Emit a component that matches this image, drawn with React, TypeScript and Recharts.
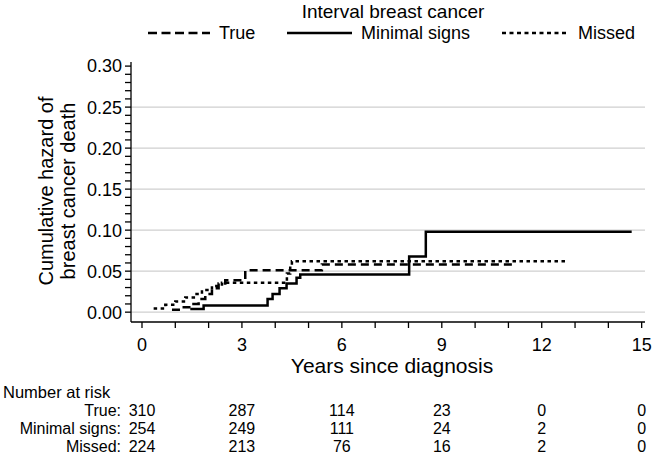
import { LineChart, Line, XAxis, YAxis, ReferenceLine } from 'recharts';

// cumulative hazard step points (years, hazard)
const trueSteps = [
  { t: 0.9, v: 0.003 },
  { t: 1.2, v: 0.006 },
  { t: 1.5, v: 0.01 },
  { t: 1.7, v: 0.016 },
  { t: 1.9, v: 0.022 },
  { t: 2.1, v: 0.029 },
  { t: 2.3, v: 0.035 },
  { t: 2.5, v: 0.039 },
  { t: 3.1, v: 0.051 },
  { t: 5.4, v: 0.058 },
  { t: 11.2, v: 0.058 }
];

const minimalSteps = [
  { t: 1.45, v: 0.004 },
  { t: 1.85, v: 0.008 },
  { t: 3.77, v: 0.016 },
  { t: 3.92, v: 0.022 },
  { t: 4.13, v: 0.029 },
  { t: 4.34, v: 0.035 },
  { t: 4.64, v: 0.042 },
  { t: 4.75, v: 0.046 },
  { t: 8.02, v: 0.068 },
  { t: 8.52, v: 0.098 },
  { t: 14.7, v: 0.098 }
];

const missedSteps = [
  { t: 0.35, v: 0.0045 },
  { t: 0.7, v: 0.009 },
  { t: 1.0, v: 0.013 },
  { t: 1.3, v: 0.018 },
  { t: 1.6, v: 0.022 },
  { t: 1.8, v: 0.027 },
  { t: 2.1, v: 0.032 },
  { t: 2.4, v: 0.036 },
  { t: 4.35, v: 0.047 },
  { t: 4.45, v: 0.056 },
  { t: 4.5, v: 0.062 },
  { t: 12.7, v: 0.062 }
];

const xTicks = [0, 1, 2, 3, 4, 5, 6, 7, 8, 9, 10, 11, 12, 13, 14, 15];
const yTicks = Array.from({ length: 31 }, (_, i) => +(i * 0.01).toFixed(2));
const gridValues = [0, 0.05, 0.1, 0.15, 0.2, 0.25];

const riskTimes = [0, 3, 6, 9, 12, 15];
const riskTrue = [310, 287, 114, 23, 0, 0];
const riskMinimal = [254, 249, 111, 24, 2, 0];
const riskMissed = [224, 213, 76, 16, 2, 0];

const W = 657;
const H = 456;
const M = { top: 62, right: 12, bottom: 104, left: 71 };
const Y_AXIS_W = 60;
const X_DOMAIN: [number, number] = [-0.33, 15.1];
const Y_DOMAIN: [number, number] = [-0.012, 0.305];
const FONT = '"Liberation Sans", Arial, sans-serif';

const plotLeft = M.left + Y_AXIS_W;
const plotRight = W - M.right;
const xPos = (t: number) =>
  plotLeft + ((t - X_DOMAIN[0]) / (X_DOMAIN[1] - X_DOMAIN[0])) * (plotRight - plotLeft);

const Overlay = () => {
  const rows = [
    { label: 'True:', vals: riskTrue, y: 410 },
    { label: 'Minimal signs:', vals: riskMinimal, y: 428 },
    { label: 'Missed:', vals: riskMissed, y: 446 }
  ];
  return (
    <svg width={W} height={H} style={{ position: 'absolute', left: 0, top: 0, pointerEvents: 'none' }}
      fontFamily={FONT} fill="#000">
      <text x={393} y={11} fontSize={19} textAnchor="middle" dominantBaseline="central">Interval breast cancer</text>
      {/* legend */}
      <line x1={148} x2={210} y1={33} y2={33} stroke="#000" strokeWidth={2.5} strokeDasharray="9 4.5" />
      <text x={219} y={33} fontSize={18} dominantBaseline="central">True</text>
      <line x1={287} x2={352} y1={33} y2={33} stroke="#000" strokeWidth={2.5} />
      <text x={361} y={33} fontSize={18} dominantBaseline="central">Minimal signs</text>
      <line x1={502} x2={566} y1={33} y2={33} stroke="#000" strokeWidth={2.5} strokeDasharray="4 3.5" />
      <text x={578} y={33} fontSize={18} dominantBaseline="central">Missed</text>

      {/* y axis title */}
      <text transform="translate(46,191) rotate(-90)" fontSize={20} textAnchor="middle" dominantBaseline="central">Cumulative hazard of</text>
      <text transform="translate(68,191) rotate(-90)" fontSize={20} textAnchor="middle" dominantBaseline="central">breast cancer death</text>

      <text x={392} y={365} fontSize={21} textAnchor="middle" dominantBaseline="central">Years since diagnosis</text>

      {/* number at risk */}
      <text x={3} y={392} fontSize={16.5} dominantBaseline="central">Number at risk</text>
      {rows.map((r) => (
        <g key={r.label}>
          <text x={121} y={r.y} fontSize={16} textAnchor="end" dominantBaseline="central">{r.label}</text>
          {r.vals.map((v, i) => (
            <text key={i} x={xPos(riskTimes[i])} y={r.y} fontSize={16} textAnchor="middle" dominantBaseline="central">{v}</text>
          ))}
        </g>
      ))}
    </svg>
  );
};

export default function App() {
  return (
    <div style={{ position: 'absolute', left: 0, top: 0, width: W, height: H, background: '#fff' }}>
      <LineChart width={W} height={H} margin={M}>
        {gridValues.map((g) => (
          <ReferenceLine key={g} y={g} stroke="#cfcfcf" strokeWidth={1.2} ifOverflow="extendDomain" />
        ))}
        <XAxis
          type="number"
          dataKey="t"
          domain={X_DOMAIN}
          ticks={xTicks}
          allowDataOverflow
          height={30}
          tickSize={6}
          tickMargin={10}
          interval={0}
          tickFormatter={(v: number) => (v % 3 === 0 ? String(v) : '')}
          stroke="#000"
          strokeWidth={1.3}
          tick={{ fill: '#000', fontSize: 18, fontFamily: FONT }}
        />
        <YAxis
          type="number"
          dataKey="v"
          domain={Y_DOMAIN}
          ticks={yTicks}
          allowDataOverflow
          width={Y_AXIS_W}
          tickSize={6}
          tickMargin={3}
          interval={0}
          tickFormatter={(v: number) => (Math.round(v * 100) % 5 === 0 ? v.toFixed(2) : '')}
          stroke="#000"
          strokeWidth={1.3}
          tick={{ fill: '#000', fontSize: 18, fontFamily: FONT }}
        />
        <Line data={trueSteps} dataKey="v" type="stepAfter" stroke="#000" strokeWidth={2.5}
          strokeDasharray="8 5" dot={false} isAnimationActive={false} />
        <Line data={minimalSteps} dataKey="v" type="stepAfter" stroke="#000" strokeWidth={2.5}
          dot={false} isAnimationActive={false} />
        <Line data={missedSteps} dataKey="v" type="stepAfter" stroke="#000" strokeWidth={2.5}
          strokeDasharray="3.5 3.5" dot={false} isAnimationActive={false} />
      </LineChart>
      <Overlay />
    </div>
  );
}
